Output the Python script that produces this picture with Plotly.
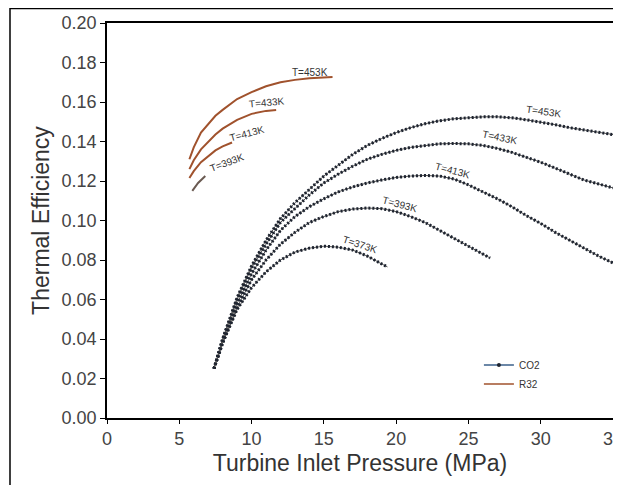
import plotly.graph_objects as go

# ---- data ----
co2_373_p = [7.4, 8, 9, 10, 11, 12, 13, 14, 15, 16, 17, 18, 19, 19.4]
co2_373_e = [0.025, 0.038, 0.055, 0.066, 0.074, 0.080, 0.084, 0.086, 0.087, 0.0865, 0.085, 0.082, 0.078, 0.0765]

co2_393_p = [7.4, 8, 9, 10, 11, 12, 13, 14, 15, 16, 17, 18, 19, 20, 21, 22, 23, 24, 25, 26, 26.5]
co2_393_e = [0.025, 0.038, 0.056, 0.070, 0.080, 0.088, 0.094, 0.099, 0.102, 0.1045, 0.1058, 0.1063, 0.106,
             0.1045, 0.102, 0.099, 0.095, 0.091, 0.087, 0.083, 0.081]

co2_413_p = [7.4, 8, 9, 10, 11, 12, 13, 14, 15, 16, 17, 18, 19, 20, 21, 22, 23, 24, 25, 26, 27, 28, 29, 30,
             31, 32, 33, 34, 35]
co2_413_e = [0.025, 0.039, 0.058, 0.073, 0.085, 0.095, 0.102, 0.107, 0.111, 0.1145, 0.117, 0.119, 0.1205,
             0.1218, 0.1225, 0.1228, 0.1225, 0.121, 0.118, 0.1145, 0.111, 0.107, 0.1025, 0.0985, 0.094,
             0.090, 0.086, 0.082, 0.0785]

co2_433_p = co2_413_p
co2_433_e = [0.025, 0.040, 0.060, 0.076, 0.088, 0.099, 0.106, 0.113, 0.119, 0.1235, 0.1275, 0.131, 0.1335,
             0.1355, 0.137, 0.138, 0.1388, 0.139, 0.1388, 0.138, 0.1365, 0.1345, 0.132, 0.1295, 0.1265,
             0.1235, 0.1205, 0.1185, 0.1165]

co2_453_p = co2_413_p
co2_453_e = [0.025, 0.040, 0.061, 0.077, 0.090, 0.101, 0.109, 0.116, 0.1225, 0.128, 0.1335, 0.138, 0.1415,
             0.1445, 0.147, 0.149, 0.1505, 0.1515, 0.152, 0.1525, 0.1525, 0.152, 0.151, 0.1498, 0.1485,
             0.147, 0.1458, 0.1445, 0.1435]

r32_393_p = [5.9, 6.3, 6.8]
r32_393_e = [0.115, 0.119, 0.1225]

r32_413_p = [5.7, 6, 6.5, 7, 7.5, 8, 8.65]
r32_413_e = [0.1215, 0.125, 0.1295, 0.1325, 0.1355, 0.1375, 0.1395]

r32_433_p = [5.7, 6, 6.5, 7, 7.5, 8, 9, 10, 11, 11.7]
r32_433_e = [0.126, 0.1305, 0.136, 0.140, 0.1435, 0.1465, 0.151, 0.154, 0.1555, 0.156]

r32_453_p = [5.7, 6, 6.5, 7, 7.5, 8, 9, 10, 11, 12, 13, 14, 15, 15.6]
r32_453_e = [0.131, 0.137, 0.1445, 0.149, 0.153, 0.156, 0.1615, 0.165, 0.168, 0.170, 0.1712, 0.172,
             0.1725, 0.1727]

co2_labels = ["T=453K", "T=433K", "T=413K", "T=393K", "T=373K"]
co2_label_p = [30.2, 27.2, 23.9, 20.3, 17.5]
co2_label_e = [0.155, 0.142, 0.1255, 0.108, 0.0876]
co2_label_ang = [8, 12, 15, 15, 18]

r32_labels = ["T=453K", "T=433K", "T=413K", "T=393K"]
r32_label_p = [14.05, 11.1, 9.7, 8.3]
r32_label_e = [0.1747, 0.1595, 0.1443, 0.1296]
r32_label_ang = [0, -5, -15, -20]

x_ticks = [0, 5, 10, 15, 20, 25, 30, 35]
y_ticks = [0.00, 0.02, 0.04, 0.06, 0.08, 0.10, 0.12, 0.14, 0.16, 0.18, 0.20]

CO2_COLOR = "#1e2430"
R32_COLOR = "#a0522d"

fig = go.Figure()

co2_sets = [(co2_373_p, co2_373_e), (co2_393_p, co2_393_e), (co2_413_p, co2_413_e),
            (co2_433_p, co2_433_e), (co2_453_p, co2_453_e)]
for i, (p, e) in enumerate(co2_sets):
    fig.add_trace(go.Scatter(x=p, y=e, mode="lines", line=dict(color="#555555", width=1),
                             showlegend=False, hoverinfo="skip"))
    fig.add_trace(go.Scatter(x=p, y=e, mode="lines",
                             line=dict(color=CO2_COLOR, width=3, dash="2px,2px"),
                             name="CO2", legendgroup="co2", showlegend=False))

r32_sets = [(r32_393_p, r32_393_e, "#6a5a52"), (r32_413_p, r32_413_e, R32_COLOR),
            (r32_433_p, r32_433_e, R32_COLOR), (r32_453_p, r32_453_e, R32_COLOR)]
for p, e, c in r32_sets:
    fig.add_trace(go.Scatter(x=p, y=e, mode="lines", line=dict(color=c, width=2),
                             name="R32", legendgroup="r32", showlegend=False))

# legend entries
fig.add_trace(go.Scatter(x=[None], y=[None], mode="lines+markers",
                         line=dict(color="#3a5f8a", width=1.5), marker=dict(size=4, color="#1e2430"),
                         name="CO2"))
fig.add_trace(go.Scatter(x=[None], y=[None], mode="lines",
                         line=dict(color=R32_COLOR, width=1.5), name="R32"))

for t, x, y, a in zip(co2_labels, co2_label_p, co2_label_e, co2_label_ang):
    fig.add_annotation(x=x, y=y, text=t, showarrow=False, textangle=a,
                       font=dict(size=10, color="#333333", family="Arial"))
for t, x, y, a in zip(r32_labels, r32_label_p, r32_label_e, r32_label_ang):
    fig.add_annotation(x=x, y=y, text=t, showarrow=False, textangle=a,
                       font=dict(size=10, color="#333333", family="Arial"))

# outer frame (page has an 8px body margin, figure is sized to fit the window)
fig.add_shape(type="rect", xref="paper", yref="paper", x0=-0.1917, x1=1.1, y0=-0.3, y1=1.0365,
              line=dict(color="black", width=1.5), layer="below")

fig.update_layout(
    width=613, height=477,
    margin=dict(l=99, r=8, t=15, b=67, autoexpand=False),
    paper_bgcolor="white", plot_bgcolor="white",
    font=dict(family="Arial", color="#333333"),
    legend=dict(x=0.735, y=0.11, xanchor="left", yanchor="middle", bgcolor="rgba(0,0,0,0)",
                font=dict(size=10, color="#333333"), itemwidth=30, tracegroupgap=0),
    showlegend=True,
)
fig.update_xaxes(range=[0, 35], tickvals=x_ticks, ticks="outside", ticklen=4, tickcolor="black",
                 showline=True, linecolor="black", linewidth=1.5, mirror=True, showgrid=False,
                 zeroline=False, automargin=False, ticklabeloverflow="allow",
                 tickfont=dict(size=18, color="#444444"),
                 title=dict(text="Turbine Inlet Pressure (MPa)", font=dict(size=23, color="#333333"),
                            standoff=7))
fig.update_yaxes(range=[0, 0.20], tickvals=y_ticks, tickformat=".2f", ticks="outside", ticklen=5,
                 tickcolor="black", showline=True, linecolor="black", linewidth=1.5, mirror=True,
                 showgrid=False, zeroline=False, automargin=False, tickfont=dict(size=18, color="#444444"),
                 title=dict(text="Thermal Efficiency", font=dict(size=23, color="#333333"), standoff=6))

fig.write_html("out.html")
